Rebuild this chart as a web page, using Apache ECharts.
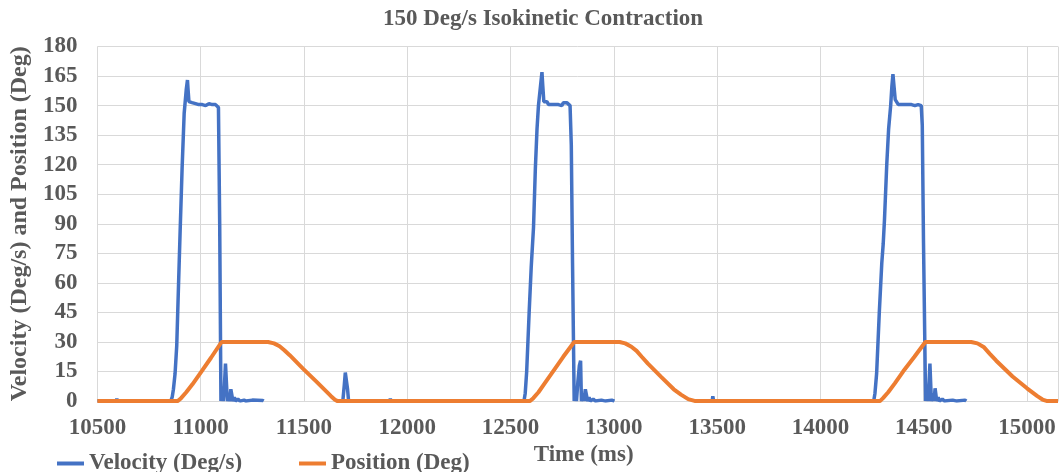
<!DOCTYPE html>
<html>
<head>
<meta charset="utf-8">
<script src="https://cdn.jsdelivr.net/npm/echarts@6/dist/echarts.min.js"></script>
<style>
html,body{margin:0;padding:0;background:#fff;}
#chart{width:1060px;height:472px;}
</style>
</head>
<body>
<div id="chart"></div>
<script>
const titleText = '150 Deg/s Isokinetic Contraction';
const xAxisName = 'Time (ms)';
const yAxisName = 'Velocity (Deg/s) and Position (Deg)';
const seriesNames = ['Velocity (Deg/s)', 'Position (Deg)'];

// Velocity (Deg/s): time (ms) and value; null = no visible data
const velTime = [
  10500,10590,10594,10598,10640,10644,10648,10674,10677,10680,10785,10788,10791,10828,10831,10834,
  10855,10862,10868,10876,10884,10893,10901,10910,10920,10930,10936,10939,10943,10950,10958,10966,10975,10983,10991,11000,11008,11016,11024,11032,11040,11048,11056,11064,11072,11080,11086,11092,11098,
  11104,11109,11115,11120,11125,11129,11135,11140,11146,11151,11156,11163,11168,11180,11190,11210,11220,11250,11300,11305,
  11480,
  11663,11688,11695,11700,11706,11711,11716,11830,11833,11836,11870,11873,11876,11915,11918,11921,12000,12003,12006,12150,12153,12156,12200,12203,12206,12470,12473,12476,12542,12545,12548,
  12565,12571,12578,12590,12600,12611,12620,12628,12635,12645,12652,12656,12661,12668,12676,12684,12692,12700,12708,12716,12724,12732,12740,12748,12756,12764,12772,12780,12788,12794,12800,12808,
  12814,12819,12826,12833,12839,12843,12850,12855,12862,12868,12873,12880,12886,12900,12910,12940,12960,12990,13003,
  13200,
  13395,13476,13479,13483,13553,13556,13559,13634,13637,13640,13716,13719,13722,13793,13796,13799,13866,13869,13872,13996,13999,14002,
  14258,14264,14272,14285,14297,14304,14310,14321,14330,14340,14346,14351,14356,14362,14369,14377,14385,14393,14401,14409,14417,14425,14433,14441,14449,14457,14465,14473,14481,14488,14493,14499,14509,
  14515,14520,14526,14530,14533,14537,14545,14550,14555,14558,14563,14570,14576,14590,14600,14640,14660,14700,14706
];
const velDeg = [
  0,0,1.2,0,0,0.8,0,0,0.8,0,0,0.8,0,0,1,0,
  0,2,6,14,28,60,88,118,146,158,163,158,152,151,151.5,150.5,151,151.5,150.5,151,150.5,151,150,150.5,151,150.5,150.5,150,150.5,150,149,90,0,
  4,0,8,19,19.5,0,3,0,6,6.5,0,2,0,1,0,0.5,0,0.5,0.3,0,
  null,
  0,0,8,14.5,14.5,6,0,0,1,0,0,0.8,0,0,1.2,0,0,0.8,0,0,0.8,0,0,0.8,0,0,0.8,0,0,1,0,
  0,4,15,45,68,88,118,138,150,160,167,160,152,151,152,150.5,151.5,150.5,151.5,150.5,151.5,150.5,151.5,150,151.5,151,151.5,150.5,150,130,70,0,
  5,0,10,18,20.5,0,4,0,6,7,0,2,0,1,0,0.5,0,0.5,0,
  null,
  0,0,2.5,0,0,0.8,0,0,0.8,0,0,0.8,0,0,0.8,0,0,0.8,0,0,0.8,0,
  0,4,14,45,70,80,92,120,138,150,160,166,160,153,152,150.5,151.5,150.5,151.5,150.5,151.5,150.5,151,150.5,151.5,150,151,150.5,150,150,140,80,0,
  5,0,10,19,20,0,4,0,6.5,7,0,2,0,1,0,0.5,0,0.5,0
];

// Position (Deg): time (ms) and value
const posTime = [
  10500,10889,10905,10930,10960,11000,11050,11101,11326,11355,11382,11405,11431,11495,11559,11631,11650,11663,
  12594,12610,12635,12665,12705,12755,12808,13028,13055,13085,13110,13135,13165,13230,13290,13325,13360,13395,
  14288,14303,14328,14360,14400,14455,14508,14730,14760,14790,14820,14851,14930,15000,15050,15075,15098,15150
];
const posDeg = [
  0,0,1.5,4.5,8.5,14.5,22,30,30,29.3,27.8,25.8,23.3,16.5,10,2.5,0.7,0,
  0,1.5,4.5,9,15,22.5,30,30,29.3,27.6,25.5,22.5,19,12.2,6,3.3,1,0,
  0,1.5,4.5,9,15,22.5,30,30,29.3,27.5,24,20.5,12.5,6.5,2.5,0.8,0,0
];

const velData = velTime.map((t, i) => [t, velDeg[i] === null ? '-' : velDeg[i]]);
const posData = posTime.map((t, i) => [t, posDeg[i]]);

const FONT = '"Liberation Serif", "Times New Roman", serif';
const TXT = '#595959';
const FS = 23;

const chart = echarts.init(document.getElementById('chart'), null, {renderer: 'canvas'});
chart.setOption({
  animation: false,
  backgroundColor: '#ffffff',
  title: {
    text: titleText,
    left: 378, top: 3,
    textStyle: {fontFamily: FONT, fontWeight: 'bold', fontSize: 23, color: TXT}
  },
  grid: {left: 93, right: 2, top: 46.5, bottom: 65, containLabel: false},
  legend: [
    {data: [seriesNames[0]], left: 52, top: 447, icon: 'rect', itemWidth: 27, itemHeight: 4,
     textStyle: {fontFamily: FONT, fontWeight: 'bold', fontSize: FS, color: TXT}},
    {data: [seriesNames[1]], left: 294, top: 447, icon: 'rect', itemWidth: 27, itemHeight: 4,
     textStyle: {fontFamily: FONT, fontWeight: 'bold', fontSize: FS, color: TXT}}
  ],
  xAxis: {
    type: 'value', min: 10500, max: 15150, interval: 500,
    name: xAxisName, nameLocation: 'middle', nameGap: 32,
    nameTextStyle: {fontFamily: FONT, fontWeight: 'bold', fontSize: FS, color: TXT, padding: [0, 0, 0, 12]},
    axisLine: {lineStyle: {color: '#d9d9d9', width: 1}},
    axisTick: {show: false},
    splitLine: {show: true, lineStyle: {color: '#d9d9d9', width: 1}},
    axisLabel: {fontFamily: FONT, fontWeight: 'bold', fontSize: FS, color: TXT, margin: 15,
      showMaxLabel: false, formatter: v => String(v)}
  },
  yAxis: {
    type: 'value', min: 0, max: 180, interval: 15,
    name: yAxisName, nameLocation: 'middle', nameGap: 62,
    nameTextStyle: {fontFamily: FONT, fontWeight: 'bold', fontSize: 24, color: TXT},
    axisLine: {show: false},
    axisTick: {show: false},
    splitLine: {show: true, lineStyle: {color: '#d9d9d9', width: 1}},
    axisLabel: {fontFamily: FONT, fontWeight: 'bold', fontSize: FS, color: TXT, margin: 20}
  },
  series: [
    {name: seriesNames[0], type: 'line', data: velData, showSymbol: false, symbol: 'none',
     connectNulls: false, lineStyle: {color: '#4472C4', width: 3.5}, itemStyle: {color: '#4472C4'}},
    {name: seriesNames[1], type: 'line', data: posData, showSymbol: false, symbol: 'none',
     lineStyle: {color: '#ED7D31', width: 4}, itemStyle: {color: '#ED7D31'}}
  ]
});
</script>
</body>
</html>
